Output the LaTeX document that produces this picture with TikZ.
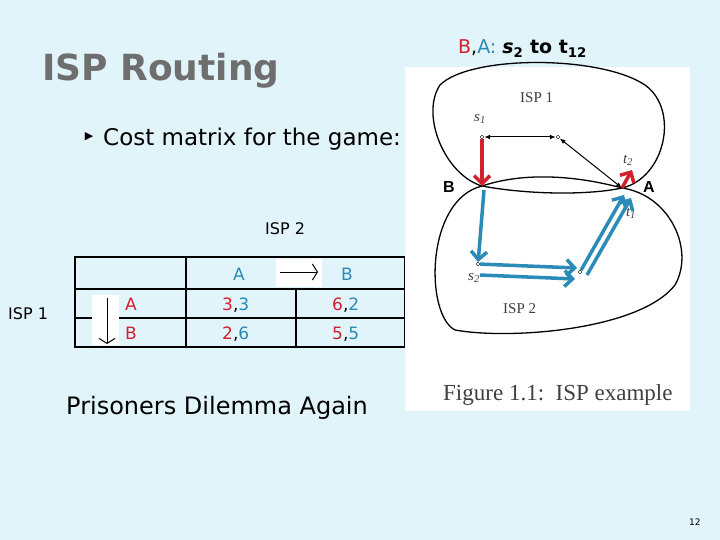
\documentclass[tikz,border=0pt]{standalone}
\usepackage{fontspec}
\setmainfont{DejaVu Sans}
\usetikzlibrary{arrows.meta}
\definecolor{bg}{HTML}{E1F4FA}
\definecolor{rd}{HTML}{D2202C}
\definecolor{bl}{HTML}{2A8AB8}
\definecolor{ttl}{HTML}{6E6E6E}
\tikzset{
  lbl/.style={inner sep=0pt,anchor=base west},
  blob/.style={draw=black,line width=1.3pt},
  bluearr/.style={draw=bl,line width=3.5pt,-{Straight Barb[length=8pt,width=16pt]}},
  redarr/.style={draw=rd,line width=3.5pt,-{Straight Barb[length=8pt,width=16pt]}},
  thin/.style={draw=black,line width=1pt,-{Latex[length=6pt]}},
  grid/.style={draw=black,line width=1.6pt},
  fig/.style={font=\fontspec{Liberation Serif}\fontsize{15}{15}\selectfont,text=black!75},
  figi/.style={font=\fontspec{Liberation Serif}\itshape\fontsize{15}{15}\selectfont,text=black!75}
}
\begin{document}
\begin{tikzpicture}[x=1pt,y=-1pt]
\fill[bg] (0,0) rectangle (720,540);
\useasboundingbox (0,0) rectangle (720,540);
% title
\node[lbl,text=ttl] (title) at (42,81) {\fontsize{36}{36}\selectfont\bfseries ISP Routing};
\node[inner sep=0pt] (bul) at (89,137) {\fontsize{11}{11}\selectfont ▶};
\node[lbl] (cost) at (103,146) {\fontsize{23}{23}\selectfont Cost matrix for the game:};
\node[lbl] (isp2) at (265,234) {\fontsize{16}{16}\selectfont ISP 2};
\node[lbl] (isp1) at (8,319) {\fontsize{16}{16}\selectfont ISP 1};
% table
\draw[grid] (75,257) rectangle (405,347);
\draw[grid] (75,289) -- (405,289) (75,318) -- (405,318) (186,257) -- (186,347) (296,289) -- (296,347);
\fill[white] (92,295) rectangle (119,345);
\fill[white] (276,259) rectangle (322,287);
\node[lbl,text=bl] (ca) at (233,280) {\fontsize{17}{17}\selectfont A};
\node[lbl,text=bl] (cb) at (341,280) {\fontsize{17}{17}\selectfont B};
\node[lbl,text=rd] (ra) at (125,310) {\fontsize{17}{17}\selectfont A};
\node[lbl,text=rd] (rb) at (125,339) {\fontsize{17}{17}\selectfont B};
\node[lbl] (c11) at (222,310) {\fontsize{17}{17}\selectfont\textcolor{rd}{3},\textcolor{bl}{3}};
\node[lbl] (c12) at (332,310) {\fontsize{17}{17}\selectfont\textcolor{rd}{6},\textcolor{bl}{2}};
\node[lbl] (c21) at (222,339) {\fontsize{17}{17}\selectfont\textcolor{rd}{2},\textcolor{bl}{6}};
\node[lbl] (c22) at (332,339) {\fontsize{17}{17}\selectfont\textcolor{rd}{5},\textcolor{bl}{5}};
\coordinate (ha1) at (280,272); \coordinate (ha2) at (318,272);
\draw[line width=1pt,-{Straight Barb[length=5pt,width=16pt]}] (ha1) -- (ha2);
\coordinate (va1) at (107,298); \coordinate (va2) at (107,344);
\draw[line width=1pt,-{Straight Barb[length=5pt,width=16pt]}] (va1) -- (va2);
\node[lbl] (pd) at (66,414) {\fontsize{24}{24}\selectfont Prisoners Dilemma Again};
\node[lbl] (pg) at (689,525) {\fontsize{9}{9}\selectfont 12};
% figure header
\node[lbl] (hdr) at (458,54) {\fontsize{19}{19}\selectfont\textcolor{rd}{B},\textcolor{bl}{A:} \textbf{\textit{s}\textsubscript{2} to t\textsubscript{12}}};
% figure
\fill[white] (405,67) rectangle (690,411);
\node[lbl,fig] (i1) at (520,103) {ISP 1};
\node[lbl,fig] (i2) at (503,313) {ISP 2};
\node[lbl,fig,font=\fontspec{Liberation Serif}\fontsize{23}{23}\selectfont] (cap) at (443,400) {Figure 1.1:\ \ ISP example};
\coordinate (B) at (482,186); \coordinate (A) at (622,188);
\draw[blob] (B) .. controls (530,170) and (585,178) .. (A)
  .. controls (665,178) and (680,110) .. (645,85)
  .. controls (600,55) and (470,55) .. (440,85)
  .. controls (420,115) and (445,175) .. (B) -- cycle;
\draw[blob] (B) .. controls (530,195) and (590,195) .. (A)
  .. controls (670,195) and (695,250) .. (675,285)
  .. controls (640,330) and (510,340) .. (455,330)
  .. controls (425,315) and (425,200) .. (B) -- cycle;
\node[lbl,font=\fontspec{Liberation Sans}\bfseries\fontsize{16}{16}\selectfont] (lB) at (443,193) {B};
\node[lbl,font=\fontspec{Liberation Sans}\bfseries\fontsize{16}{16}\selectfont] (lA) at (643,193) {A};
\node[circle,draw,inner sep=1.3pt] (s1) at (482,137) {};
\node[circle,draw,inner sep=1.3pt] (m1) at (558,137) {};
\node[circle,draw,inner sep=1.3pt] (s2) at (478,264) {};
\node[circle,draw,inner sep=1.3pt] (m2) at (580,272) {};
\node[figi] (ls1) at (480,119) {s\textsubscript{1}};
\node[figi] (ls2) at (474,278) {s\textsubscript{2}};
\node[figi] (lt2) at (628,160) {t\textsubscript{2}};
\node[figi] (lt1) at (631,213) {t\textsubscript{1}};
\draw[thin,{Latex[length=6pt]}-{Latex[length=6pt]}] (s1) -- (m1);
\draw[thin,{Latex[length=6pt]}-{Latex[length=6pt]}] (m1) -- (A);
\draw[redarr] (s1) -- (B);
\coordinate (t2) at (632,170);
\draw[redarr] (A) -- (t2);
\draw[bluearr] (484,190) -- (s2);
\draw[bluearr] (s2) -- (577,268);
\draw[bluearr] (480,275) -- (575,279);
\draw[bluearr] (m2) -- (624,195);
\draw[bluearr] (587,275) -- (631,198);
\end{tikzpicture}
\end{document}
